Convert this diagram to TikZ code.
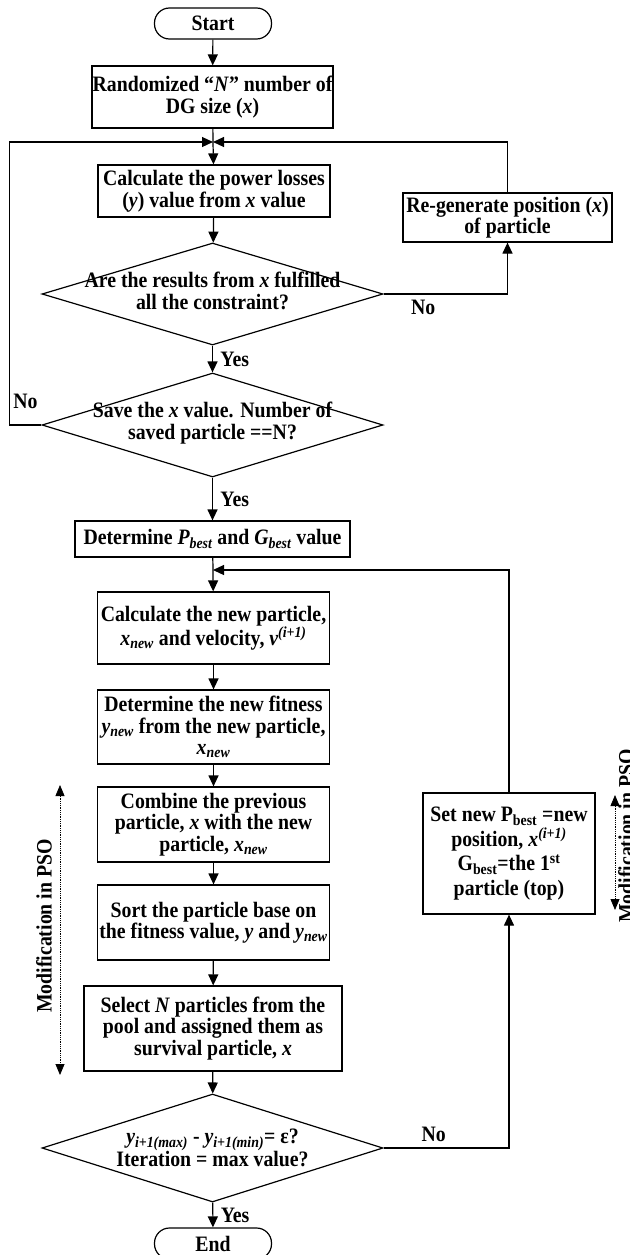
\documentclass[tikz,border=0pt]{standalone}
\usepackage{fontspec}
\setmainfont{Liberation Serif}[FakeStretch=0.9]
\usetikzlibrary{arrows.meta}
\usetikzlibrary{shapes.geometric}

\begin{document}
\begin{tikzpicture}[x=1pt, y=-1pt, line width=1.2pt,
    txt/.style={font=\bfseries\fontsize{22}{21.5}\selectfont, align=center},
    box/.style={txt, draw, rectangle, inner sep=0pt, minimum width=232pt},
    term/.style={txt, draw, rounded corners=15pt, minimum width=117pt, minimum height=31pt, inner sep=0pt},
    decision/.style={draw, diamond, minimum width=341pt, minimum height=#1, inner sep=0pt},
    flow/.style={-{Triangle[length=11pt,width=10pt]}},
    modarrow/.style={densely dotted, line width=0.8pt, {Triangle[length=11pt,width=9pt]}-{Triangle[length=11pt,width=9pt]}}]
    \useasboundingbox (0,0) rectangle (629,1255);

    % main column
    \node[term] (start) at (213,23.5) {Start};
    \node[box, minimum width=241pt, minimum height=62pt] (init) at (212.5,97) {Randomized “\textit{N}” number of\\DG size (\textit{x})};
    \coordinate (j1) at (213,142);
    \node[box, minimum height=52pt] (losses) at (214,191) {Calculate the power losses\\(\textit{y}) value from \textit{x} value};
    \node[box, minimum width=209pt, minimum height=49pt] (regen) at (507.5,217.5) {Re-generate position (\textit{x})\\of particle};
    \node[decision=102pt, label={[txt, yshift=3pt]center:Are the results from \textit{x} fulfilled\\all the constraint?}] (check) at (212.5,294) {};
    \node[decision=104pt, label={[txt, yshift=2pt]center:Save the \textit{x} value. Number of\\saved particle ==N?}] (count) at (212.5,425) {};
    \node[box, minimum width=275pt, minimum height=36pt] (best) at (212.5,539) {Determine \textit{P\textsubscript{best}} and \textit{G\textsubscript{best}} value};
    \coordinate (j2) at (213,570);
    \node[box, minimum height=72pt] (update) at (213.5,628) {Calculate the new particle,\\\textit{x\textsubscript{new}} and velocity, \textit{v\textsuperscript{(i+1)}}};
    \node[box, minimum height=74pt] (fit) at (213.5,727) {Determine the new fitness\\\textit{y\textsubscript{new}} from the new particle,\\\textit{x\textsubscript{new}}};
    \node[box, minimum height=75pt] (merge) at (213.5,824.5) {Combine the previous\\particle, \textit{x} with the new\\particle, \textit{x\textsubscript{new}}};
    \node[box, minimum height=75pt] (sorting) at (213.5,922.5) {Sort the particle base on\\the fitness value, \textit{y} and \textit{y\textsubscript{new}}};
    \node[box, minimum width=258pt, minimum height=85pt] (select) at (213,1028.5) {Select \textit{N} particles from the\\pool and assigned them as\\survival particle, \textit{x}};
    \node[decision=108pt, label={[txt]center:\textit{y\textsubscript{i+1(max)}} - \textit{y\textsubscript{i+1(min)}}= ε?\\Iteration = max value?}] (conv) at (212.5,1148) {};
    \node[term] (finish) at (213,1243.5) {End};
    \node[box, minimum width=172pt, minimum height=121pt, font=\bfseries\fontsize{22}{24.5}\selectfont] (setbest) at (509,853.5) {Set new P\textsubscript{best} =new\\position, \textit{x\textsuperscript{(i+1)}}\\G\textsubscript{best}=the 1\textsuperscript{st}\\particle (top)};

    % connectors
    \draw[flow] (start) -- (init);
    \draw (init) -- (j1);
    \draw[flow] (j1) -- (losses);
    \draw[flow] (losses) -- (check);
    \draw[flow] (check.east) -| node[txt, pos=0.16, below=2pt] {No} (regen);
    \draw[flow] (regen) |- (j1);
    \draw[flow] (check) -- node[txt, right=4pt] {Yes} (count);
    \draw[flow] (count.west) -- node[txt, above=12pt] {No} ++(-32,0) |- (j1);
    \draw[flow] (count) -- node[txt, right=4pt] {Yes} (best);
    \draw (best) -- (j2);
    \draw[flow] (j2) -- (update);
    \draw[flow] (update) -- (fit);
    \draw[flow] (fit) -- (merge);
    \draw[flow] (merge) -- (sorting);
    \draw[flow] (sorting) -- (select);
    \draw[flow] (select) -- (conv);
    \draw[flow] (conv) -- node[txt, right=4pt] {Yes} (finish);
    \draw[flow] (conv.east) -| node[txt, pos=0.2, above=2pt] {No} (setbest);
    \draw[flow] (setbest) |- (j2);

    % modification markers
    \coordinate (ml1) at (60,785);
    \coordinate (ml2) at (60,1075);
    \coordinate (mr1) at (615,795);
    \coordinate (mr2) at (615,910);
    \draw[modarrow] (ml1) -- (ml2);
    \draw[modarrow] (mr1) -- (mr2);
    \node[txt, rotate=90] (modleft) at (44,926) {Modification in PSO};
    \node[txt, rotate=90] (modright) at (626,836) {Modification in PSO};
\end{tikzpicture}
\end{document}
